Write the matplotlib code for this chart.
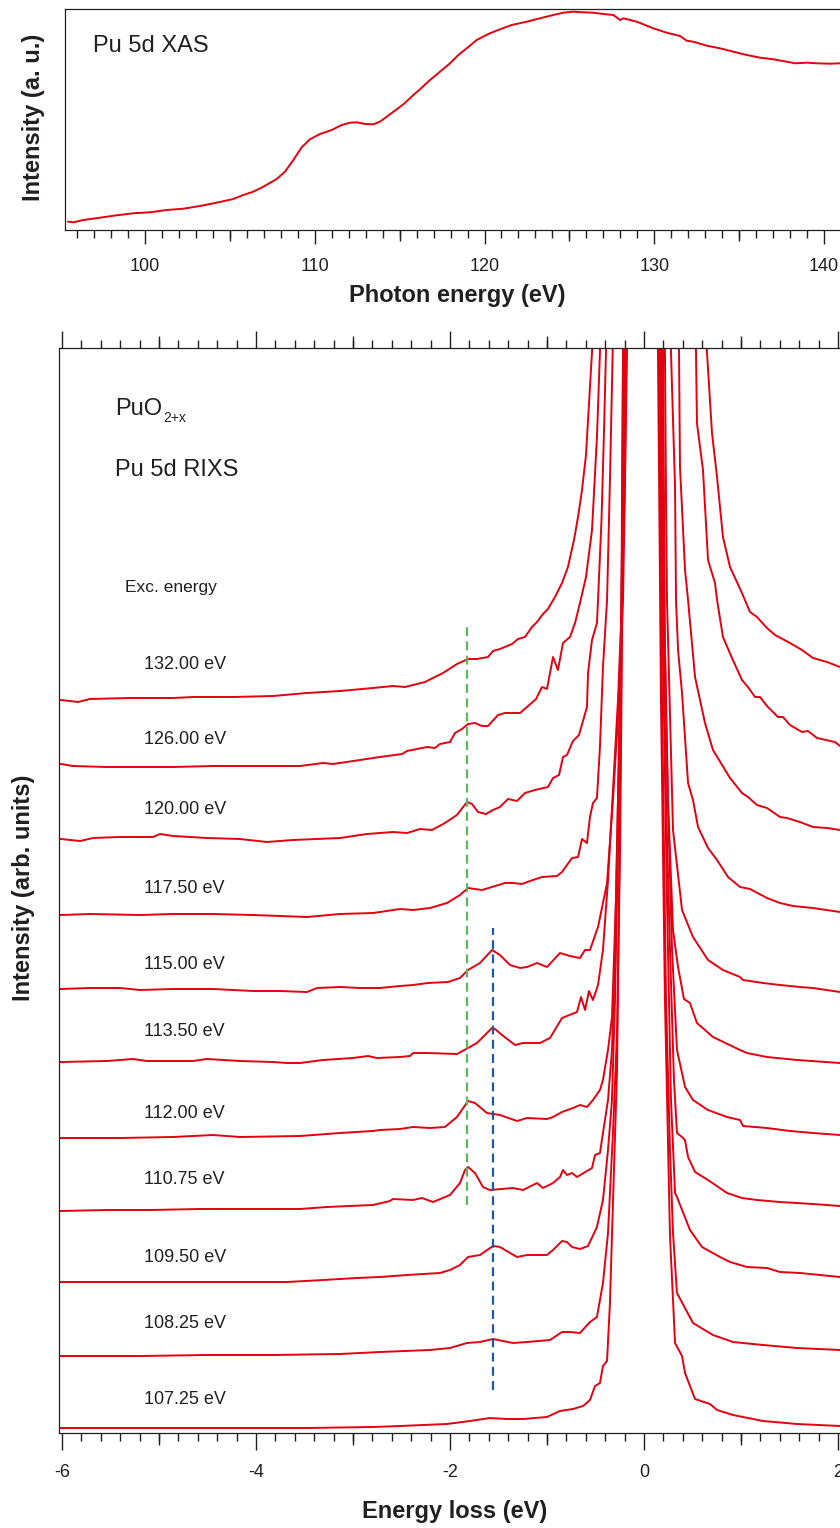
import matplotlib
matplotlib.use("Agg")
import matplotlib.pyplot as plt
from matplotlib.ticker import MultipleLocator

plt.rcParams['font.family'] = ['Liberation Sans', 'DejaVu Sans']
plt.rcParams['axes.unicode_minus'] = False

RED = '#e3000f'
INK = '#231f20'

# Pu 5d XAS (photon energy in eV, intensity in a.u.)
xas_energy = [95.48, 95.78, 96.37, 97.35, 98.33, 99.31, 100.29, 101.28, 102.26, 103.24,
              104.22, 105.20, 105.79, 106.38, 106.97, 107.76, 108.25, 108.74, 109.23, 109.72,
              110.31, 111.00, 111.59, 112.08, 112.47, 112.96, 113.45, 113.84, 114.24, 114.83,
              115.22, 115.81, 116.20, 116.79, 117.38, 117.97, 118.46, 118.95, 119.54, 120.22,
              120.91, 121.60, 122.49, 123.27, 124.05, 124.64, 125.23, 125.82, 126.41, 127.00,
              127.59, 127.98, 128.18, 128.97, 129.94, 130.73, 131.52, 131.91, 132.30, 133.09,
              133.87, 134.66, 135.45, 136.24, 137.01, 137.80, 138.29, 138.98, 139.56, 140.35,
              140.94]
xas_intensity = [8.3, 7.7, 10, 12.3, 14.7, 16.7, 17.7, 20, 21.3, 24,
                 27.3, 31, 35, 38.3, 43.3, 51, 58.3, 70, 82.7, 90.7,
                 96, 100, 105, 107.3, 107.7, 106, 105.7, 108.3, 113.3, 120.7,
                 125.7, 135, 140.7, 150, 158.3, 166.7, 175, 181.7, 190, 196,
                 200.7, 205, 208.3, 211.7, 215, 217.3, 218.3, 217.7, 217.3, 216,
                 215, 210, 211.7, 208.3, 201.7, 197.3, 194, 189.3, 188.3, 184.3,
                 181.7, 178.3, 175, 172.3, 170.7, 168.3, 166.7, 167.3, 166.7, 166.3,
                 166.7]

# Pu 5d RIXS spectra, stacked (energy loss in eV, intensity in arb. units)
exc_labels = ['132.00 eV', '126.00 eV', '120.00 eV', '117.50 eV', '115.00 eV', '113.50 eV',
              '112.00 eV', '110.75 eV', '109.50 eV', '108.25 eV', '107.25 eV']

loss_132 = [-6.01, -5.835, -5.711, -5.299, -4.856, -4.649, -4.237, -3.825, -3.474, -3.134,
            -2.794, -2.588, -2.464, -2.258, -2.072, -1.928, -1.814, -1.722, -1.608, -1.557,
            -1.485, -1.361, -1.299, -1.227, -1.155, -1.103, -1.041, -0.990, -0.918, -0.845,
            -0.784, -0.722, -0.680, -0.639, -0.598, -0.577, -0.557, -0.536, -0.01,
            0.649, 0.701, 0.753, 0.814, 0.887, 1.010, 1.093, 1.165, 1.268, 1.351,
            1.505, 1.629, 1.742, 1.887, 2.021]
int_132 = [733, 731, 734, 735, 735, 736, 736, 737, 740, 742,
           745, 747, 746, 751, 760, 769, 774, 774, 776, 782,
           784, 789, 794, 796, 806, 811, 819, 824, 836, 850,
           866, 893, 916, 943, 978, 1013, 1046, 1081, 2600,
           1081, 1000, 956, 896, 866, 840, 821, 816, 805, 798,
           790, 783, 775, 771, 766]

loss_126 = [-6.01, -5.887, -5.536, -5.268, -4.856, -4.443, -3.825, -3.546, -3.309, -3.206,
            -2.928, -2.722, -2.495, -2.443, -2.237, -2.155, -2.103, -2.0, -1.948, -1.876,
            -1.814, -1.742, -1.670, -1.608, -1.505, -1.433, -1.278, -1.206, -1.113, -1.052,
            -1.0, -0.938, -0.887, -0.835, -0.763, -0.711, -0.660, -0.598, -0.536, -0.485,
            -0.454, -0.01,
            0.536, 0.546, 0.608, 0.660, 0.732, 0.753, 0.814, 0.907, 1.010, 1.072,
            1.144, 1.196, 1.268, 1.381, 1.433, 1.505, 1.629, 1.691, 1.784, 1.969, 2.021]
int_126 = [669, 667, 666, 666, 666, 667, 667, 667, 670, 669,
           673, 676, 679, 682, 686, 685, 689, 691, 700, 704,
           709, 710, 707, 707, 718, 720, 720, 726, 734, 746,
           744, 776, 763, 790, 796, 810, 830, 856, 903, 996,
           1081, 2600,
           1081, 1010, 963, 873, 850, 833, 796, 775, 753, 746,
           736, 736, 727, 716, 716, 708, 701, 702, 695, 691, 687]

loss_120 = [-6.01, -5.814, -5.680, -5.402, -5.062, -4.990, -4.856, -4.505, -4.165, -3.887,
            -3.619, -3.134, -2.856, -2.722, -2.588, -2.443, -2.309, -2.186, -2.052, -1.928,
            -1.825, -1.773, -1.711, -1.629, -1.557, -1.485, -1.402, -1.309, -1.227, -1.124,
            -0.990, -0.938, -0.876, -0.835, -0.794, -0.732, -0.670, -0.588, -0.577, -0.536,
            -0.485, -0.474, -0.438, -0.412, -0.392, -0.01,
            0.361, 0.371, 0.423, 0.454, 0.526, 0.629, 0.711, 0.887, 1.010, 1.072,
            1.165, 1.268, 1.402, 1.474, 1.608, 1.742, 1.887, 2.021]
int_120 = [594, 592, 595, 596, 596, 599, 597, 595, 594, 591,
           593, 595, 599, 600, 601, 600, 604, 603, 610, 618,
           631, 629, 621, 619, 623, 626, 634, 632, 640, 643,
           646, 655, 658, 676, 678, 692, 698, 726, 760, 793,
           810, 833, 913, 1003, 1081, 2600,
           1081, 966, 863, 833, 756, 710, 683, 655, 640, 636,
           628, 625, 616, 615, 611, 606, 605, 603]

loss_117 = [-6.01, -5.711, -5.196, -4.856, -4.443, -4.031, -3.474, -3.134, -2.794, -2.722,
            -2.515, -2.381, -2.206, -2.031, -1.897, -1.814, -1.670, -1.567, -1.433, -1.351,
            -1.258, -1.175, -1.052, -0.897, -0.845, -0.742, -0.680, -0.639, -0.588, -0.557,
            -0.526, -0.485, -0.454, -0.423, -0.381, -0.351, -0.323, -0.01,
            0.278, 0.320, 0.330, 0.351, 0.392, 0.454, 0.505, 0.557, 0.660, 0.753,
            0.866, 0.990, 1.093, 1.268, 1.402, 1.536, 1.742, 2.021]
int_117 = [518, 519, 518, 519, 519, 518, 516, 519, 520, 521,
           524, 523, 525, 530, 538, 545, 543, 546, 550, 550,
           549, 552, 556, 557, 561, 575, 576, 594, 590, 616,
           630, 635, 686, 766, 833, 953, 1081, 2600,
           1081, 946, 833, 783, 740, 650, 633, 606, 585, 573,
           556, 546, 544, 535, 530, 527, 525, 521]

loss_115 = [-6.01, -5.711, -5.402, -5.196, -4.856, -4.443, -4.031, -3.753, -3.474, -3.371,
            -3.134, -2.928, -2.722, -2.515, -2.381, -2.227, -2.021, -1.897, -1.814, -1.691,
            -1.567, -1.485, -1.381, -1.278, -1.206, -1.103, -1.0, -0.866, -0.763, -0.660,
            -0.608, -0.557, -0.474, -0.381, -0.320, -0.278, -0.247, -0.216, -0.196, -0.186,
            -0.01,
            0.216, 0.227, 0.237, 0.299, 0.392, 0.505, 0.660, 0.814, 0.990, 1.021,
            1.227, 1.402, 1.608, 1.742, 2.021]
int_115 = [444, 445, 445, 443, 444, 444, 442, 442, 441, 445,
           446, 445, 445, 447, 448, 450, 451, 455, 463, 470,
           483, 478, 468, 465, 466, 470, 466, 480, 477, 475,
           483, 483, 506, 550, 633, 700, 766, 833, 953, 1081,
           2600,
           1081, 933, 833, 603, 523, 496, 473, 463, 456, 453,
           450, 448, 446, 445, 441]

loss_113 = [-6.01, -5.536, -5.268, -5.124, -4.649, -4.505, -4.165, -3.825, -3.680, -3.546,
            -3.309, -3.0, -2.845, -2.753, -2.515, -2.412, -2.381, -2.237, -1.928, -1.814,
            -1.722, -1.567, -1.536, -1.464, -1.330, -1.247, -1.072, -0.969, -0.845, -0.691,
            -0.649, -0.608, -0.567, -0.526, -0.474, -0.423, -0.371, -0.320, -0.268, -0.227,
            -0.196, -0.175, -0.01,
            0.196, 0.216, 0.247, 0.299, 0.351, 0.412, 0.474, 0.546, 0.711, 0.990,
            1.062, 1.268, 1.577, 2.021]
int_113 = [371, 372, 374, 372, 372, 374, 372, 371, 370, 370,
           373, 375, 377, 375, 376, 377, 380, 380, 379, 385,
           390, 405, 404, 398, 388, 390, 390, 395, 415, 421,
           436, 423, 442, 433, 448, 483, 553, 643, 733, 833,
           953, 1081, 2600,
           1081, 783, 633, 503, 466, 434, 430, 410, 396, 383,
           380, 376, 373, 370]

loss_112 = [-6.01, -5.402, -4.856, -4.443, -4.165, -3.546, -3.134, -2.794, -2.722, -2.515,
            -2.381, -2.206, -2.052, -1.928, -1.814, -1.742, -1.619, -1.485, -1.309, -1.206,
            -1.0, -0.938, -0.845, -0.732, -0.660, -0.588, -0.526, -0.454, -0.423, -0.371,
            -0.330, -0.289, -0.258, -0.227, -0.206, -0.196, -0.01,
            0.186, 0.206, 0.247, 0.289, 0.340, 0.423, 0.505, 0.660, 0.856, 0.990,
            1.021, 1.268, 1.505, 1.742, 2.021]
int_112 = [295, 295, 296, 298, 296, 297, 300, 302, 303, 304,
           306, 305, 306, 316, 332, 330, 320, 318, 312, 315,
           314, 316, 321, 325, 328, 326, 333, 343, 353, 383,
           416, 533, 683, 833, 953, 1081, 2600,
           1081, 833, 633, 483, 383, 346, 333, 323, 316, 313,
           307, 305, 302, 300, 298]

loss_110 = [-6.01, -5.536, -5.093, -4.577, -4.165, -3.546, -3.268, -2.794, -2.619, -2.588,
            -2.381, -2.289, -2.175, -2.0, -1.897, -1.845, -1.814, -1.742, -1.660, -1.588,
            -1.351, -1.247, -1.103, -1.041, -0.938, -0.866, -0.835, -0.794, -0.742, -0.691,
            -0.536, -0.505, -0.454, -0.423, -0.371, -0.330, -0.299, -0.268, -0.237, -0.216,
            -0.206, -0.01,
            0.175, 0.196, 0.227, 0.268, 0.309, 0.340, 0.392, 0.423, 0.454, 0.526,
            0.660, 0.856, 1.010, 1.165, 1.402, 1.742, 2.021]
int_110 = [222, 223, 223, 224, 224, 224, 226, 228, 232, 234,
           233, 235, 231, 238, 250, 263, 266, 260, 246, 243,
           245, 243, 250, 245, 250, 256, 263, 258, 260, 256,
           265, 278, 280, 300, 333, 383, 483, 633, 783, 953,
           1081, 2600,
           1081, 833, 633, 483, 353, 300, 296, 293, 276, 261,
           253, 240, 235, 233, 231, 229, 227]

loss_109 = [-6.01, -5.371, -4.856, -4.165, -3.680, -3.309, -2.959, -2.722, -2.443, -2.103,
            -2.0, -1.897, -1.814, -1.691, -1.557, -1.485, -1.309, -1.206, -1.0, -0.938,
            -0.845, -0.794, -0.742, -0.660, -0.577, -0.485, -0.423, -0.371, -0.330, -0.299,
            -0.268, -0.247, -0.227, -0.216, -0.01,
            0.165, 0.196, 0.237, 0.278, 0.320, 0.340, 0.474, 0.598, 0.784, 0.887,
            1.062, 1.268, 1.402, 1.608, 2.021]
int_109 = [151, 151, 151, 151, 151, 153, 155, 156, 158, 160,
           163, 168, 176, 178, 187, 186, 176, 178, 178, 183,
           192, 191, 186, 184, 187, 206, 233, 283, 333, 433,
           583, 733, 883, 1081, 2600,
           1081, 783, 533, 333, 240, 236, 203, 186, 176, 171,
           166, 165, 161, 160, 156]

loss_108 = [-6.01, -5.196, -4.505, -3.825, -3.134, -2.722, -2.206, -2.0, -1.825, -1.691,
            -1.557, -1.351, -1.206, -0.969, -0.845, -0.763, -0.660, -0.557, -0.485, -0.423,
            -0.371, -0.320, -0.278, -0.247, -0.227, -0.216, -0.206, -0.01,
            0.155, 0.186, 0.227, 0.268, 0.299, 0.340, 0.505, 0.711, 0.918, 1.227,
            1.577, 2.021]
int_108 = [77, 77, 78, 78, 79, 81, 83, 85, 90, 91,
           94, 90, 91, 93, 101, 101, 100, 111, 116, 150,
           200, 300, 400, 583, 783, 953, 1081, 2600,
           1081, 733, 433, 283, 200, 140, 110, 98, 91, 88,
           85, 83]

loss_107 = [-6.01, -5.196, -4.505, -3.474, -2.794, -2.515, -2.031, -1.794, -1.588, -1.412,
            -1.247, -1.0, -0.866, -0.732, -0.629, -0.557, -0.505, -0.454, -0.423, -0.381,
            -0.351, -0.320, -0.278, -0.258, -0.237, -0.227, -0.216, -0.01,
            0.144, 0.175, 0.216, 0.268, 0.320, 0.392, 0.423, 0.526, 0.680, 0.753,
            0.918, 1.227, 1.577, 2.021]
int_107 = [5, 5, 5, 5, 6, 7, 9, 12, 15, 14,
           14, 16, 22, 24, 27, 33, 47, 50, 67, 72,
           130, 230, 363, 533, 733, 933, 1081, 2600,
           1081, 733, 433, 197, 90, 77, 60, 34, 29, 23,
           18, 12, 9, 7]

spectra = [(loss_132, int_132), (loss_126, int_126), (loss_120, int_120),
           (loss_117, int_117), (loss_115, int_115), (loss_113, int_113),
           (loss_112, int_112), (loss_110, int_110), (loss_109, int_109),
           (loss_108, int_108), (loss_107, int_107)]

# dashed guide lines: energy loss and vertical extent
guide_green = (-1.825, 228, 809)
guide_blue = (-1.554, 43, 505)

# label baselines (data units) for the excitation energies
label_y = [763.5, 688.5, 618.5, 539.5, 463.5, 396.5, 314.5, 248.5, 170.5, 104.5, 29.5]

W, H = 840, 1528
fig = plt.figure(figsize=(W / 100, H / 100), dpi=100)

# ---------- top panel: XAS ----------
ax1 = fig.add_axes([65 / W, 1 - 230 / H, 810 / W, 221.3 / H])
ax1.plot(xas_energy, xas_intensity, color=RED, lw=1.4)
ax1.set_xlim(95.29, 143)
ax1.set_ylim(0, 221.3)
ax1.set_yticks([])
ax1.xaxis.set_major_locator(MultipleLocator(10))
ax1.xaxis.set_minor_locator(MultipleLocator(1))
ax1.tick_params(axis='x', which='major', direction='out', length=10, width=1,
                pad=10, labelsize=13, colors=INK)
ax1.tick_params(axis='x', which='minor', direction='out', length=5.8, width=1, colors=INK)
sec1 = ax1.secondary_xaxis('bottom')
sec1.set_xticks([105, 115, 125, 135])
sec1.tick_params(axis='x', direction='out', length=7.7, width=1, labelbottom=False, colors=INK)
sec1.spines['bottom'].set_visible(False)
for s in ax1.spines.values():
    s.set_color(INK)
    s.set_linewidth(0.9)
ax1.set_xlabel('Photon energy (eV)', fontsize=17, fontweight='bold', color=INK)
ax1.xaxis.set_label_coords(0.484, -0.246)
ax1.set_ylabel('Intensity (a. u.)', fontsize=17, fontweight='bold', color=INK)
ax1.yaxis.set_label_coords(-0.025, 0.51)
ax1.text(96.94, 178, 'Pu 5d XAS', fontsize=17, va='baseline', color=INK)

# ---------- bottom panel: RIXS ----------
ax2 = fig.add_axes([58.6 / W, 1 - 1433 / H, 837.6 / W, 1084.7 / H])
for loss, inten in spectra:
    ax2.plot(loss, inten, color=RED, lw=1.4, zorder=2)

for x, y0, y1, col in [(*guide_green, '#5cb85c'), (*guide_blue, '#1f5aa6')]:
    ax2.plot([x, x], [y0, y1], color=col, lw=1.6, linestyle=(0, (4, 2.4)), zorder=3)

ax2.set_xlim(-6.035, 2.6)
ax2.set_ylim(0, 1084.7)
ax2.set_yticks([])
ax2.xaxis.set_major_locator(MultipleLocator(2))
ax2.xaxis.set_minor_locator(MultipleLocator(0.2))
ax2.tick_params(axis='x', which='major', direction='out', length=12.2, width=1,
                pad=10, labelsize=13, colors=INK, top=True, labeltop=False)
ax2.tick_params(axis='x', which='minor', direction='out', length=5.8, width=1,
                colors=INK, top=True)
for loc in ['bottom', 'top']:
    sec = ax2.secondary_xaxis(loc)
    sec.set_xticks([-5, -3, -1, 1])
    sec.tick_params(axis='x', direction='out', length=8.6, width=1, colors=INK,
                    labelbottom=False, labeltop=False)
    sec.spines[loc].set_visible(False)
for s in ax2.spines.values():
    s.set_color(INK)
    s.set_linewidth(0.9)
ax2.set_xlabel('Energy loss (eV)', fontsize=17, fontweight='bold', color=INK)
ax2.xaxis.set_label_coords(0.4733, -0.0618)
ax2.set_ylabel('Intensity (arb. units)', fontsize=17, fontweight='bold', color=INK)
ax2.yaxis.set_label_coords(-0.0282, 0.503)

ax2.text(-5.454, 1018, 'PuO', fontsize=17, va='baseline', color=INK)
ax2.text(-4.959, 1011.3, '2+x', fontsize=10, va='baseline', color=INK)
ax2.text(-5.454, 957.3, 'Pu 5d RIXS', fontsize=17, va='baseline', color=INK)
ax2.text(-5.351, 841.3, 'Exc. energy', fontsize=12.5, va='baseline', color=INK)
for lab, y in zip(exc_labels, label_y):
    ax2.text(-5.155, y, lab, fontsize=13, va='baseline', color=INK)

fig.savefig('out.png', dpi=100)
